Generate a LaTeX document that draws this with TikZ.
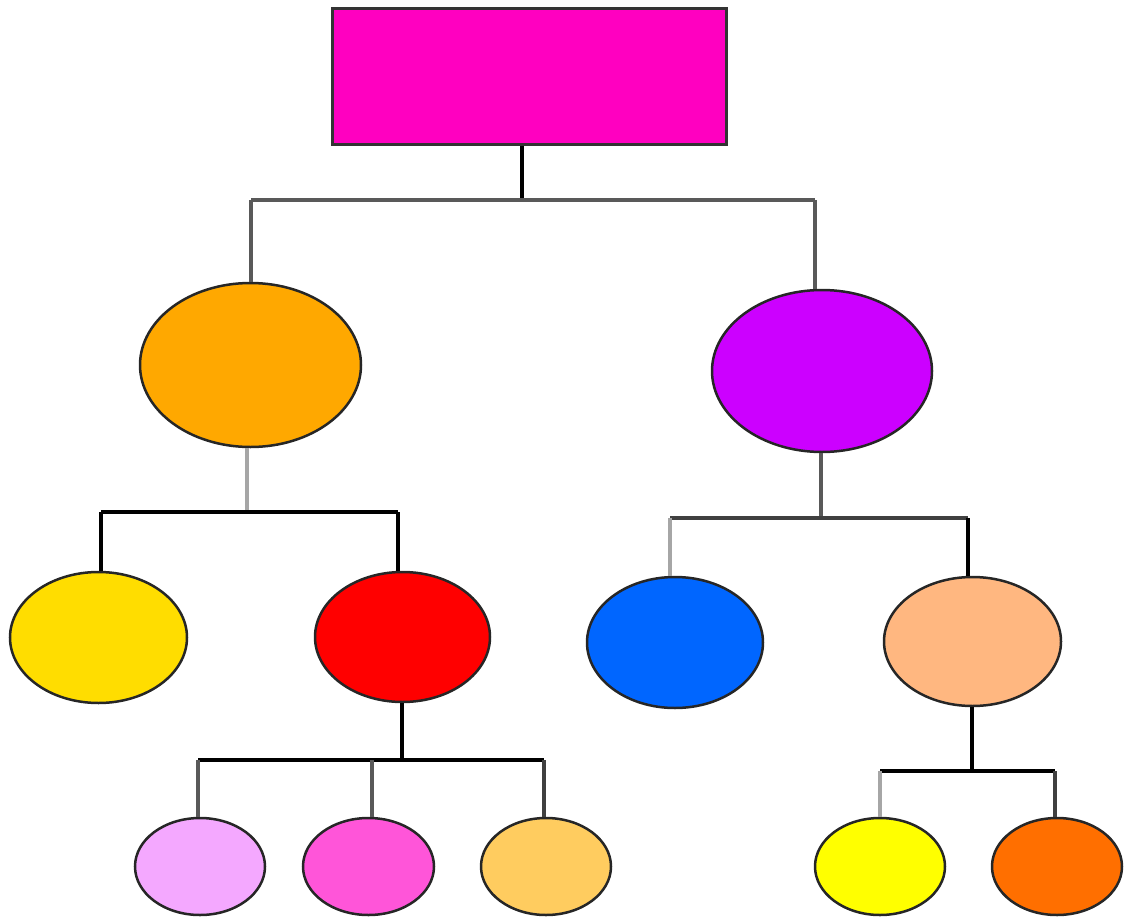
\documentclass[tikz,border=0pt]{standalone}
\usetikzlibrary{shapes.geometric}
\definecolor{cRoot}{HTML}{FF00C0}
\definecolor{cOrange}{HTML}{FFA800}
\definecolor{cPurple}{HTML}{CC00FF}
\definecolor{cYellow}{HTML}{FFDD00}
\definecolor{cRed}{HTML}{FF0000}
\definecolor{cBlue}{HTML}{0066FF}
\definecolor{cPeach}{HTML}{FFB780}
\definecolor{cLav}{HTML}{F4A8FF}
\definecolor{cPink}{HTML}{FF55D9}
\definecolor{cLtOr}{HTML}{FFCC5F}
\definecolor{cYel2}{HTML}{FFFF00}
\definecolor{cDkOr}{HTML}{FF6F00}
\tikzset{
  box/.style={draw=black!80, line width=3pt, rectangle, inner sep=0pt},
  oval/.style={draw=black!85, line width=2.5pt, ellipse, inner sep=0pt},
  conn/.style={line width=3.5pt},
  lk/.style={conn, draw=black},
  lg/.style={conn, draw=black!65},
  lm/.style={conn, draw=black!75},
  ll/.style={conn, draw=black!35},
}
\begin{document}
\begin{tikzpicture}[x=1pt,y=-1pt]
\useasboundingbox (0,0) rectangle (1128,921);
\node[box, fill=cRoot, minimum width=394pt, minimum height=136pt] (root) at (529,76) {};
\node[oval, fill=cOrange, minimum width=221pt, minimum height=164pt] (o1) at (250.5,365) {};
\node[oval, fill=cPurple, minimum width=220pt, minimum height=162pt] (o2) at (822,371) {};
\node[oval, fill=cYellow, minimum width=177pt, minimum height=131pt] (o11) at (98.5,637.5) {};
\node[oval, fill=cRed, minimum width=175pt, minimum height=130pt] (o12) at (402.5,637) {};
\node[oval, fill=cBlue, minimum width=176pt, minimum height=131pt] (o21) at (675,642.5) {};
\node[oval, fill=cPeach, minimum width=177pt, minimum height=129pt] (o22) at (972.5,641.5) {};
\node[oval, fill=cLav, minimum width=130pt, minimum height=97pt] (o121) at (200,866.5) {};
\node[oval, fill=cPink, minimum width=131pt, minimum height=97pt] (o122) at (368.5,866.5) {};
\node[oval, fill=cLtOr, minimum width=130pt, minimum height=97pt] (o123) at (546,866.5) {};
\node[oval, fill=cYel2, minimum width=130pt, minimum height=97pt] (o221) at (880,866.5) {};
\node[oval, fill=cDkOr, minimum width=130pt, minimum height=97pt] (o222) at (1057,866.5) {};
% bar coordinates
\coordinate (b0) at (522,200);
\coordinate (b1) at (247,512);
\coordinate (b2) at (821,518);
\coordinate (b12) at (402,760);
\coordinate (b22) at (972,771);
% root
\draw[lk] (root.south -| b0) -- (b0);
\draw[lg] (251,200) -- (815,200);
\draw[lg] (251,200) -- (o1.north -| 251,0);
\draw[lg] (815,200) -- (o2.north -| 815,0);
% orange
\draw[ll] (o1.south -| b1) -- (b1);
\draw[lk] (101,512) -- (398,512);
\draw[lk] (101,512) -- (o11.north -| 101,0);
\draw[lk] (398,512) -- (o12.north -| 398,0);
% purple
\draw[lg] (o2.south -| b2) -- (b2);
\draw[lm] (670,518) -- (968,518);
\draw[ll] (670,518) -- (o21.north -| 670,0);
\draw[lk] (968,518) -- (o22.north -| 968,0);
% red
\draw[lk] (o12.south -| b12) -- (b12);
\draw[lk] (198,760) -- (544,760);
\draw[lg] (198,760) -- (o121.north -| 198,0);
\draw[lg] (372,760) -- (o122.north -| 372,0);
\draw[lm] (544,760) -- (o123.north -| 544,0);
% peach
\draw[lk] (o22.south -| b22) -- (b22);
\draw[lk] (880,771) -- (1055,771);
\draw[ll] (880,771) -- (o221.north -| 880,0);
\draw[lm] (1055,771) -- (o222.north -| 1055,0);
\end{tikzpicture}
\end{document}
